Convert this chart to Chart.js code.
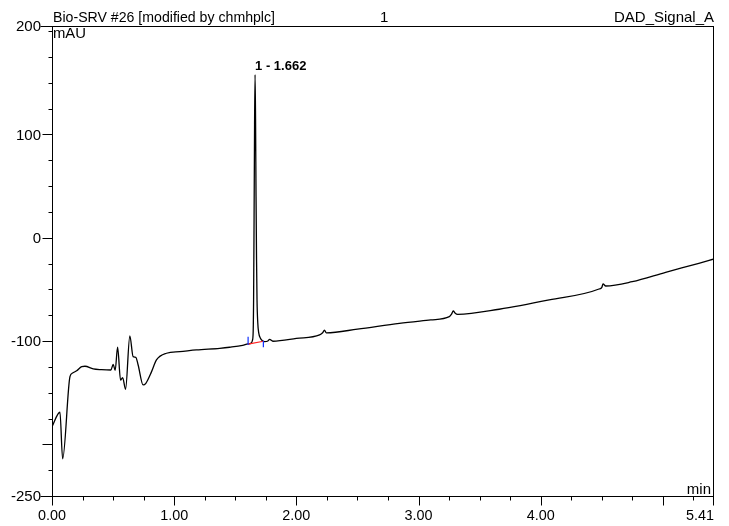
<!DOCTYPE html>
<html>
<head>
<meta charset="utf-8">
<script src="https://cdn.jsdelivr.net/npm/chart.js@4/dist/chart.umd.min.js"></script>
<style>
  html, body { margin: 0; padding: 0; background: #fff; }
  canvas { display: block; }
</style>
</head>
<body>
<canvas id="chrom" width="729" height="526"></canvas>
<script>
// ===== Data =====
const times = [
  0.000, 0.065, 0.087, 0.147, 0.169, 0.202, 0.243, 0.270, 0.337, 0.406,
  0.482, 0.501, 0.517, 0.537, 0.561, 0.578, 0.602, 0.637, 0.664, 0.686,
  0.705, 0.746, 0.768, 0.815, 0.855, 0.937, 1.046, 1.182, 1.373, 1.454,
  1.560, 1.604, 1.630, 1.640, 1.646, 1.650, 1.654, 1.658, 1.662, 1.666,
  1.670, 1.674, 1.678, 1.684, 1.692, 1.705, 1.720, 1.740, 1.767, 1.781,
  1.808, 2.000, 2.190, 2.215, 2.230, 2.245, 2.500, 2.843, 3.100, 3.252,
  3.270, 3.284, 3.300, 3.320, 3.660, 4.069, 4.477, 4.500, 4.510, 4.532,
  4.749, 5.022, 5.294, 5.410
];
const signal = [
  -182.9, -168.9, -214.1, -134.5, -130.9, -128.7, -124.8, -124.4, -127.0, -127.7,
  -128.0, -122.5, -128.3, -106.0, -137.7, -135.4, -146.7, -95.1, -115.1, -115.7,
  -123.2, -142.5, -140.9, -129.6, -118.3, -111.8, -110.3, -108.6, -107.0, -106.0,
  -104.2, -102.8, -102.0, -99.5, -93.0, -60.0, 20.0, 110.0, 158.0, 115.0,
  40.0, -20.0, -60.0, -82.0, -92.0, -97.0, -99.5, -100.6, -99.9, -98.3,
  -100.2, -97.5, -94.1, -92.0, -89.5, -92.0, -88.5, -82.8, -79.5, -76.4,
  -74.0, -70.9, -73.0, -74.1, -69.2, -60.2, -49.6, -48.0, -44.7, -46.7,
  -42.5, -33.4, -24.7, -20.8
];

// integration baseline and delimiters of peak 1
const baseT = [1.605, 1.730];
const baseV = [-102.9, -100.2];
const startMarkV = [-95.8, -103.8];
const endMarkV = [-99.6, -106.0];

// axes
const xMin = 0, xMax = 5.41;
const yMin = -250, yMax = 205;
const xLabelValues = [0, 1, 2, 3, 4];
const xLabelText = ['0.00', '1.00', '2.00', '3.00', '4.00'];
const xMajorValues = [0, 1, 2, 3, 4, 5];
const yLabelValues = [205, 100, 0, -100, -250];
const yLabelText = ['200', '100', '0', '-100', '-250'];
const yMajorValues = [100, 0, -100, -200];

const FONT = '"Liberation Sans", Arial, sans-serif';

const pts = (xs, ys) => xs.map((x, i) => ({ x, y: ys[i] }));

// ===== Frame, ticks and texts, drawn with the chart scales =====
const framePlugin = {
  id: 'frame',
  afterDraw(chart) {
    const { ctx, chartArea: a, scales: { x, y } } = chart;
    ctx.save();
    ctx.strokeStyle = '#000';
    ctx.fillStyle = '#000';
    ctx.lineWidth = 1;

    // box
    ctx.strokeRect(Math.round(a.left) + 0.5, Math.round(a.top) + 0.5,
      Math.round(a.right - a.left), Math.round(a.bottom - a.top));

    const hx = v => Math.round(x.getPixelForValue(v)) + 0.5;
    const hy = v => Math.round(y.getPixelForValue(v)) + 0.5;
    const bottom = Math.round(a.bottom) + 0.5;
    const left = Math.round(a.left) + 0.5;

    ctx.beginPath();
    // x minor ticks
    for (let v = 0.25; v < xMax; v += 0.25) {
      ctx.moveTo(hx(v), bottom); ctx.lineTo(hx(v), bottom + 4);
    }
    xMajorValues.forEach(v => { ctx.moveTo(hx(v), bottom); ctx.lineTo(hx(v), bottom + 9); });
    ctx.moveTo(hx(xMax), bottom); ctx.lineTo(hx(xMax), bottom + 9);
    // y minor ticks
    for (let v = -225; v < 205; v += 25) {
      ctx.moveTo(left, hy(v)); ctx.lineTo(left - 4, hy(v));
    }
    yMajorValues.forEach(v => { ctx.moveTo(left, hy(v)); ctx.lineTo(left - 10, hy(v)); });
    ctx.moveTo(left, hy(yMax)); ctx.lineTo(left - 12, hy(yMax));
    ctx.moveTo(left, hy(yMin)); ctx.lineTo(left - 12, hy(yMin));
    ctx.stroke();

    // tick labels
    ctx.font = '15px ' + FONT;
    ctx.textBaseline = 'alphabetic';
    ctx.textAlign = 'center';
    xLabelValues.forEach((v, i) => ctx.fillText(xLabelText[i], x.getPixelForValue(v), 520, 28));
    ctx.textAlign = 'right';
    ctx.fillText('5.41', a.right + 1, 520, 28);
    ctx.textBaseline = 'middle';
    yLabelValues.forEach((v, i) => ctx.fillText(yLabelText[i], a.left - 11, y.getPixelForValue(v) + 1));

    // header & units
    ctx.textBaseline = 'alphabetic';
    ctx.textAlign = 'left';
    ctx.fillText('Bio-SRV #26 [modified by chmhplc]', a.left + 1, a.top - 4, 222);
    ctx.fillText('1', 380, a.top - 4);
    ctx.textAlign = 'right';
    ctx.fillText('DAD_Signal_A', a.right + 1, a.top - 4, 100);
    ctx.textAlign = 'left';
    ctx.fillText('mAU', a.left + 1, a.top + 12, 33);
    ctx.textAlign = 'right';
    ctx.fillText('min', a.right - 2, a.bottom - 2, 25);

    // peak label
    ctx.font = 'bold 13px ' + FONT;
    ctx.textAlign = 'left';
    ctx.fillText('1 - 1.662', x.getPixelForValue(1.662), y.getPixelForValue(158) - 5, 55);
    ctx.restore();
  }
};

new Chart(document.getElementById('chrom'), {
  type: 'line',
  data: {
    datasets: [
      {
        data: pts(times, signal),
        borderColor: '#000',
        borderWidth: 1.3,
        pointRadius: 0,
        cubicInterpolationMode: 'monotone',
        order: 2,
      },
      {
        data: pts(baseT, baseV),
        borderColor: '#ff2020',
        borderWidth: 1.2,
        pointRadius: 0,
        order: 1,
      },
      {
        data: pts([baseT[0], baseT[0]], startMarkV),
        borderColor: '#1030ff',
        borderWidth: 1.2,
        pointRadius: 0,
        order: 0,
      },
      {
        data: pts([baseT[1], baseT[1]], endMarkV),
        borderColor: '#1030ff',
        borderWidth: 1.2,
        pointRadius: 0,
        order: 0,
      },
    ],
  },
  options: {
    responsive: false,
    devicePixelRatio: 1,
    animation: false,
    layout: { padding: { left: 52, right: 16, top: 26, bottom: 30 } },
    plugins: { legend: { display: false }, tooltip: { enabled: false } },
    scales: {
      x: { type: 'linear', min: xMin, max: xMax, display: false },
      y: { type: 'linear', min: yMin, max: yMax, display: false },
    },
  },
  plugins: [framePlugin],
});
</script>
</body>
</html>
